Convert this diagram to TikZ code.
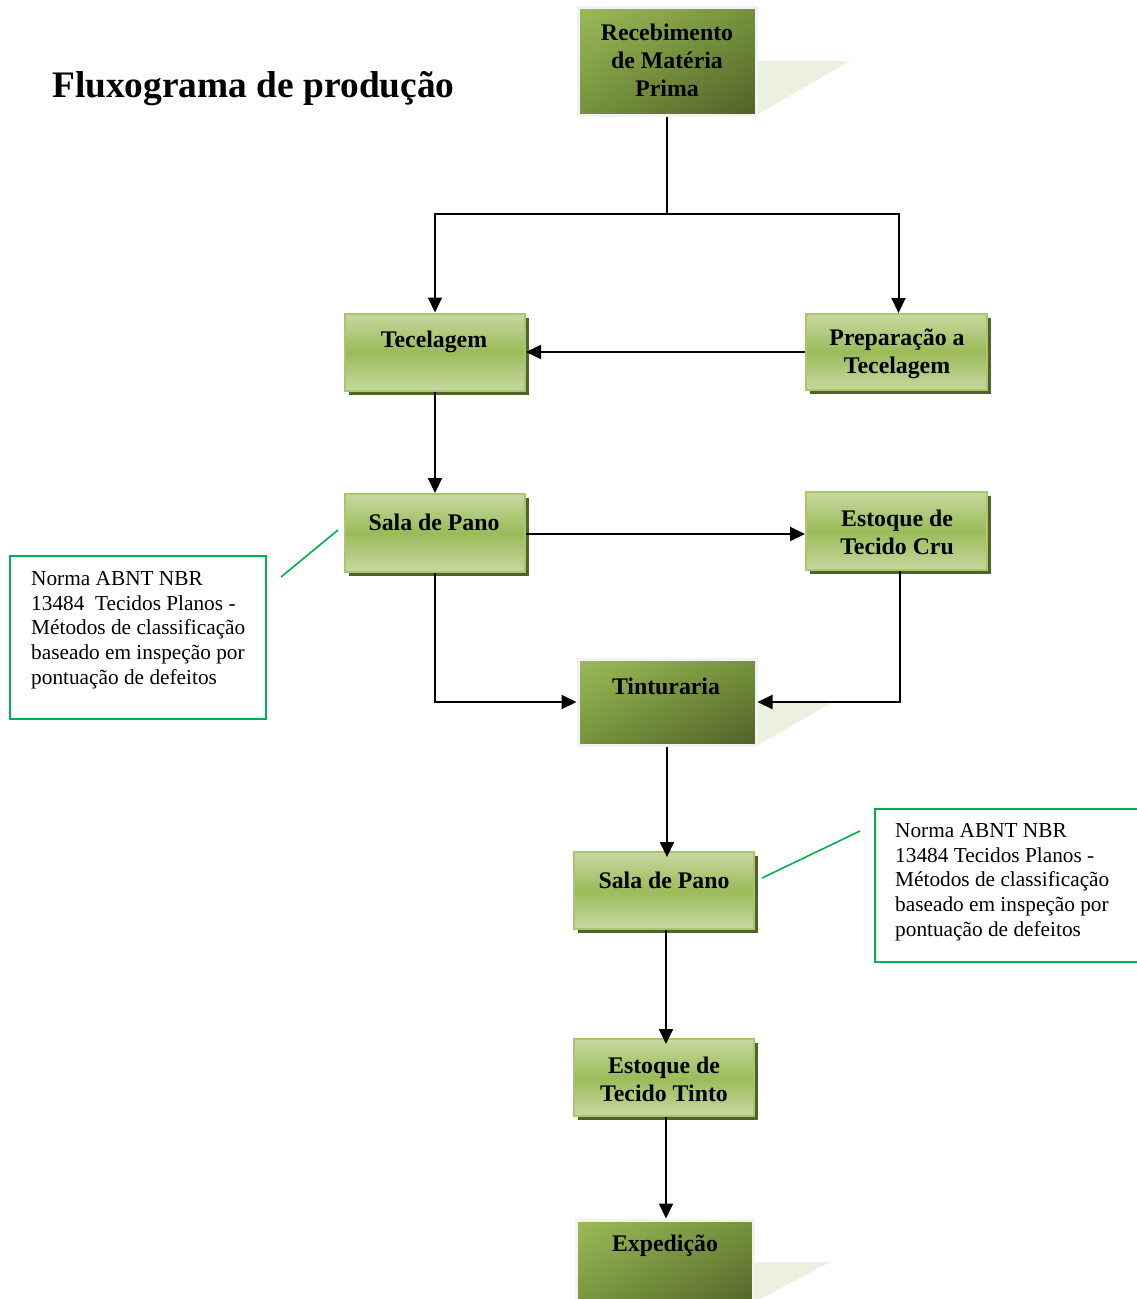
\documentclass[tikz,border=0pt]{standalone}
\usepackage{fontspec}
\setmainfont{Liberation Serif}
\usetikzlibrary{arrows.meta,shadows,shadings}
\definecolor{gA}{HTML}{9BBB59}
\definecolor{gB}{HTML}{76923C}
\definecolor{gC}{HTML}{4F6228}
\definecolor{gL}{HTML}{C6D9A0}
\definecolor{fedge}{HTML}{A8C66C}
\definecolor{boxedge}{HTML}{F2F2F2}
\definecolor{ghost}{HTML}{EBF1DE}
\definecolor{noteg}{HTML}{00B050}
\begin{document}
\begin{tikzpicture}[x=1pt,y=-1pt,
  diagbox/.style={draw=boxedge, line width=3pt, upper left=gA, upper right=gB, lower left=gB, lower right=gC, inner sep=0pt},
  flatbox/.style={draw=fedge, line width=2pt, top color=gL, bottom color=gL, middle color=gA, inner sep=0pt,
     drop shadow={opacity=1, fill=gC, shadow xshift=4pt, shadow yshift=-4pt}},
  boxtext/.style={font=\fontsize{23.8}{28}\selectfont\bfseries, align=center, inner sep=0pt},
  notetext/.style={font=\fontsize{21.3}{24.7}\selectfont, align=left, inner sep=0pt, anchor=west},
  notebox/.style={draw=noteg, line width=1.6pt},
  noteline/.style={draw=noteg, line width=1.6pt},
  conn/.style={line width=2pt},
  arr/.style={line width=2pt, -{Triangle[length=15pt,width=14pt]}}
]
\useasboundingbox (0,0) rectangle (1137,1299);
\clip (0,0) rectangle (1137,1299);

% title
\node[anchor=west, inner sep=0pt, font=\fontsize{37.4}{44}\selectfont\bfseries] (title) at (52,89) {Fluxograma de produção};

% perspective shadows of the diagonal boxes
\fill[ghost] (756,61) -- (850,61) -- (758,114) -- (756,114) -- cycle;
\fill[ghost] (756,702) -- (833,702) -- (758,745) -- (756,745) -- cycle;
\fill[ghost] (753,1262) -- (830,1262) -- (760,1299) -- (753,1299) -- cycle;

% boxes
\node[diagbox, minimum width=178pt, minimum height=108pt] (rec) at (667,61) {};
\node[boxtext] (rect) at (667,60) {Recebimento\\de Matéria\\Prima};

\node[flatbox, minimum width=180pt, minimum height=77pt] (tec) at (435,352) {};
\node[boxtext] (tect) at (434,342) {Tecelagem};

\node[flatbox, minimum width=181pt, minimum height=76pt] (prep) at (896.5,352) {};
\node[boxtext] (prept) at (897,354) {Preparação a\\Tecelagem};

\node[flatbox, minimum width=180pt, minimum height=78pt] (sala1) at (435,533) {};
\node[boxtext] (sala1t) at (434,522) {Sala de Pano};

\node[flatbox, minimum width=181pt, minimum height=78pt] (cru) at (896.5,531) {};
\node[boxtext] (crut) at (897,532) {Estoque de\\Tecido Cru};

\node[diagbox, minimum width=178pt, minimum height=86pt] (tint) at (667,702) {};
\node[boxtext] (tintt) at (666,686) {Tinturaria};

\node[flatbox, minimum width=180pt, minimum height=77pt] (sala2) at (664,890.5) {};
\node[boxtext] (sala2t) at (664,880) {Sala de Pano};

\node[flatbox, minimum width=180pt, minimum height=77pt] (tinto) at (664,1077.5) {};
\node[boxtext] (tintot) at (664,1079) {Estoque de\\Tecido Tinto};

\node[diagbox, minimum width=177pt, minimum height=92pt] (exp) at (664.5,1266) {};
\node[boxtext] (expt) at (665,1246) {Expedição};

% connectors
\coordinate (j) at (667,214);
\draw[conn] (rec.south) -- (j);
\draw[arr] (j) -| (tec.north);
\draw[arr] (j) -| ([xshift=2pt]prep.north);
\draw[arr] (prep.west) -- (prep.west -| tec.east);
\draw[arr] (tec.south) -- (sala1.north);
\draw[arr] ([yshift=-1pt]sala1.east) -- ([yshift=-1pt]sala1.east -| cru.west);
\draw[arr] (sala1.south) |- (tint.west);
\draw[arr] ([xshift=3pt]cru.south) |- (tint.east);
\draw[arr] (tint.south) -- ([yshift=-6pt]tint.south |- sala2.north);
\draw[arr] ([xshift=2pt]sala2.south) -- ([xshift=2pt,yshift=-6pt]tinto.north);
\draw[arr] ([xshift=2pt]tinto.south) -- ([xshift=2pt]tinto.south |- exp.north);

% notes
\node[notebox, minimum width=256pt, minimum height=163pt, inner sep=0pt] (note1) at (138,637.5) {};
\node[notetext] (note1t) at (31,630) {Norma ABNT NBR\\13484~ Tecidos Planos -\\Métodos de classificação\\baseado em inspeção por\\pontuação de defeitos};
\coordinate (n1a) at (281,577);
\coordinate (n1b) at (338,530);
\draw[noteline] (n1a) -- (n1b);

\node[notebox, minimum width=280pt, minimum height=153pt, inner sep=0pt] (note2) at (1015,885.5) {};
\node[notetext] (note2t) at (895,882) {Norma ABNT NBR\\13484 Tecidos Planos -\\Métodos de classificação\\baseado em inspeção por\\pontuação de defeitos};
\coordinate (n2a) at (762,878);
\coordinate (n2b) at (860,831);
\draw[noteline] (n2a) -- (n2b);
\end{tikzpicture}
\end{document}
